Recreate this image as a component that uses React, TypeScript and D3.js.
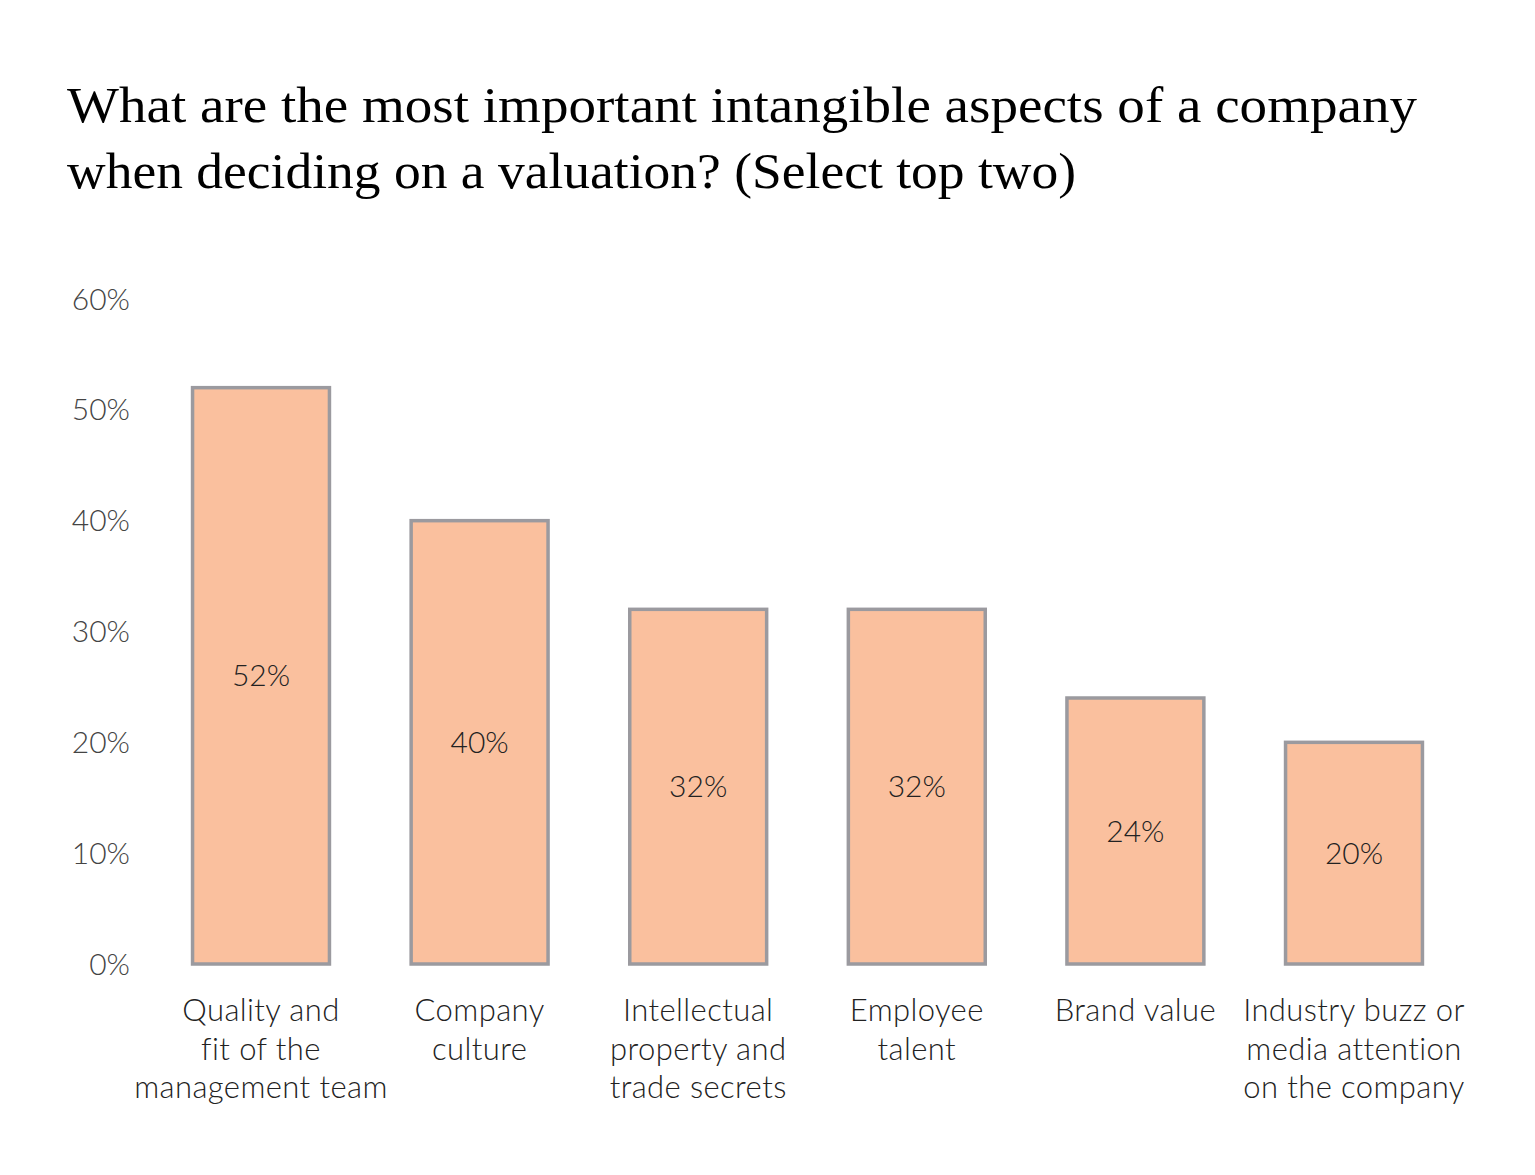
import React from "react";
import * as d3 from "d3";

const W = 1535;
const H = 1175;

const titleLines = [
  "What are the most important intangible aspects of a company",
  "when deciding on a valuation? (Select top two)",
];
// measured widths of the title lines in the reference (px)
const titleWidths = [1350, 1009];

const categories = [
  ["Quality and", "fit of the", "management team"],
  ["Company", "culture"],
  ["Intellectual", "property and", "trade secrets"],
  ["Employee", "talent"],
  ["Brand value"],
  ["Industry buzz or", "media attention", "on the company"],
];

const values = [52, 40, 32, 32, 24, 20];
const yTicks = [0, 10, 20, 30, 40, 50, 60];

const sans = "'Source Sans Pro', Lato, 'Open Sans', sans-serif";
const serif = "Georgia, 'Liberation Serif', serif";

export default function App() {
  const ids = categories.map((_, i) => String(i));
  const x = d3
    .scaleBand<string>()
    .domain(ids)
    .range([151.7, 1463.3])
    .paddingInner(0.36)
    .paddingOuter(0.18);
  const y = d3.scaleLinear().domain([0, 60]).range([964, 299]);

  return (
    <svg
      width={W}
      height={H}
      style={{ position: "absolute", left: 0, top: 0, background: "#fff" }}
    >
      {/* title */}
      {titleLines.map((t, i) => (
        <text
          key={i}
          x={67}
          y={122 + i * 66}
          fontFamily={serif}
          fontSize={51}
          fill="#000"
          textLength={titleWidths[i]}
          lengthAdjust="spacingAndGlyphs"
        >
          {t}
        </text>
      ))}

      {/* y axis labels */}
      {yTicks.map((t) => (
        <text
          key={t}
          x={130}
          y={y(t)}
          dy="0.35em"
          textAnchor="end"
          fontFamily={sans}
          fontWeight={300}
          fontSize={30}
          fill="#444"
        >
          {t}%
        </text>
      ))}

      {/* bars */}
      {values.map((v, i) => {
        const x0 = x(String(i))!;
        const bw = x.bandwidth();
        return (
          <g key={i}>
            <rect
              x={x0 + 1.5}
              y={y(v)}
              width={bw - 3}
              height={y(0) - y(v)}
              fill="#FAC09E"
              stroke="#9b9a9f"
              strokeWidth={3.5}
            />
            <text
              x={x0 + bw / 2}
              y={(y(v) + y(0)) / 2}
              dy="0.35em"
              textAnchor="middle"
              fontFamily={sans}
              fontWeight={300}
              fontSize={30}
              fill="#222"
            >
              {v}%
            </text>
          </g>
        );
      })}

      {/* category labels */}
      {categories.map((lines, i) => (
        <text
          key={i}
          textAnchor="middle"
          fontFamily={sans}
          fontWeight={300}
          fontSize={31}
          letterSpacing={0.4}
          fill="#222"
        >
          {lines.map((l, j) => (
            <tspan key={j} x={x(String(i))! + x.bandwidth() / 2} y={1021 + j * 38.5}>
              {l}
            </tspan>
          ))}
        </text>
      ))}
    </svg>
  );
}
